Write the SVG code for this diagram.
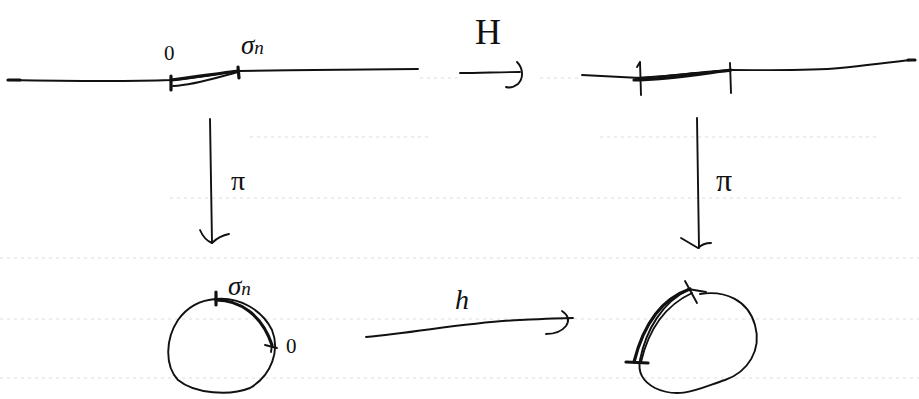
<svg xmlns="http://www.w3.org/2000/svg" width="919" height="399" viewBox="0 0 919 399">
  <style>
    .ink { fill: none; stroke: #111; stroke-width: 1.9; stroke-linecap: round; stroke-linejoin: round; }
    .thick { fill: none; stroke: #111; stroke-width: 3.2; stroke-linecap: round; stroke-linejoin: round; }
    .rule { fill: none; stroke: #a0a0a0; stroke-width: 0.8; stroke-dasharray: 3 4; opacity: 0.45; }
    .lbl { font-family: "Liberation Serif", "DejaVu Serif", serif; font-style: italic; fill: #111; }
    .up { font-family: "Liberation Serif", "DejaVu Serif", serif; font-style: normal; fill: #111; }
  </style>

  <!-- ruled paper lines -->
  <g id="paper">
    <path class="rule" d="M420 78 H460 M540 78 H580"/>
    <path class="rule" d="M250 137 H430 M600 137 H880"/>
    <path class="rule" d="M170 198 H905"/>
    <path class="rule" d="M0 258 H919"/>
    <path class="rule" d="M0 319 H919"/>
    <path class="rule" d="M0 378 H919"/>
  </g>

  <!-- real line with the segment [0, σn] -->
  <g id="line-left">
    <path class="ink" d="M8 80 C 60 81, 120 82, 171 80 C 195 78, 215 74, 238 71 C 300 70, 370 69, 418 69"/>
    <path class="thick" d="M8 80 L 20 80"/>
    <path class="thick" d="M171 80 C 195 77, 215 74, 238 71"/>
    <path class="ink" d="M173 86 C 195 85, 215 78, 238 72"/>
    <path class="thick" d="M171 76 L 171 90"/>
    <path class="thick" d="M238 67 L 239 78"/>
    <text class="up" x="164" y="60" font-size="21">0</text>
    <text class="lbl" x="241" y="54" font-size="27">σ<tspan font-size="19">n</tspan></text>
  </g>

  <!-- real line, image segment -->
  <g id="line-right">
    <path class="ink" d="M582 75 C 600 76, 620 77, 640 78 C 670 76, 700 72, 731 70 C 770 70, 810 71, 840 68 C 870 65, 890 62, 912 60"/>
    <path class="thick" d="M634 80 C 665 80, 700 74, 731 70"/>
    <path class="ink" d="M636 78 C 670 76, 700 72, 730 71"/>
    <path class="ink" d="M640 62 L 641 95 M637 67 L 640 62"/>
    <path class="ink" d="M730 63 L 731 93"/>
    <path class="thick" d="M908 60 L 915 60"/>
  </g>

  <!-- circle with the arc from 0 to σn -->
  <g id="circle-left">
    <path class="ink" d="M216 299 C 240 297, 262 310, 272 330 C 280 350, 272 375, 250 388 C 230 396, 195 394, 178 380 C 164 365, 166 338, 178 320 C 188 306, 200 300, 216 299 Z"/>
    <path class="thick" d="M216 300 C 240 300, 262 315, 272 345"/>
    <path class="ink" d="M265 345 L 277 348 M272 345 L 271 352"/>
    <path class="thick" d="M216 292 L 216 305"/>
    <text class="lbl" x="228" y="295" font-size="27">σ<tspan font-size="19">n</tspan></text>
    <text class="up" x="286" y="353" font-size="21">0</text>
  </g>

  <!-- deformed circle, image of the arc -->
  <g id="circle-right">
    <path class="ink" d="M700 294 C 725 290, 748 300, 755 325 C 762 350, 748 372, 725 380 C 700 388, 680 400, 655 388 C 640 380, 638 370, 640 360 C 646 330, 662 302, 690 289"/>
    <path class="thick" d="M634 362 C 642 330, 658 300, 690 289"/>
    <path class="ink" d="M641 362 C 648 332, 664 306, 692 293"/>
    <path class="thick" d="M626 362 L 648 363"/>
    <path class="ink" d="M685 281 L 697 303 M688 289 L 706 292"/>
  </g>

  <!-- connectors: H, the two projections π, and h -->
  <g id="connectors">
    <g id="edge-H">
      <path class="ink" d="M460 73 C 480 73, 500 72, 520 72"/>
      <path class="ink" d="M517 62 C 523 68, 524 78, 518 84 C 514 87, 509 88, 506 87"/>
      <text class="up" x="475" y="44" font-size="36">H</text>
    </g>
    <g id="edge-pi-left">
      <path class="ink" d="M210 119 L 212 243"/>
      <path class="ink" d="M200 230 C 203 237, 207 241, 212 243 C 217 238, 223 235, 229 234"/>
      <text class="up" x="231" y="190" font-size="28">π</text>
    </g>
    <g id="edge-pi-right">
      <path class="ink" d="M697 118 L 699 248"/>
      <path class="ink" d="M681 238 L 698 248 C 702 244, 706 243, 711 243"/>
      <text class="up" x="716" y="191" font-size="32">π</text>
    </g>
    <g id="edge-h">
      <path class="ink" d="M366 337 C 420 332, 470 322, 520 320 C 540 319, 560 318, 573 318"/>
      <path class="ink" d="M562 311 C 568 315, 570 320, 566 326 C 562 331, 554 334, 546 334"/>
      <text class="lbl" x="455" y="309" font-size="28">h</text>
    </g>
  </g>
</svg>
